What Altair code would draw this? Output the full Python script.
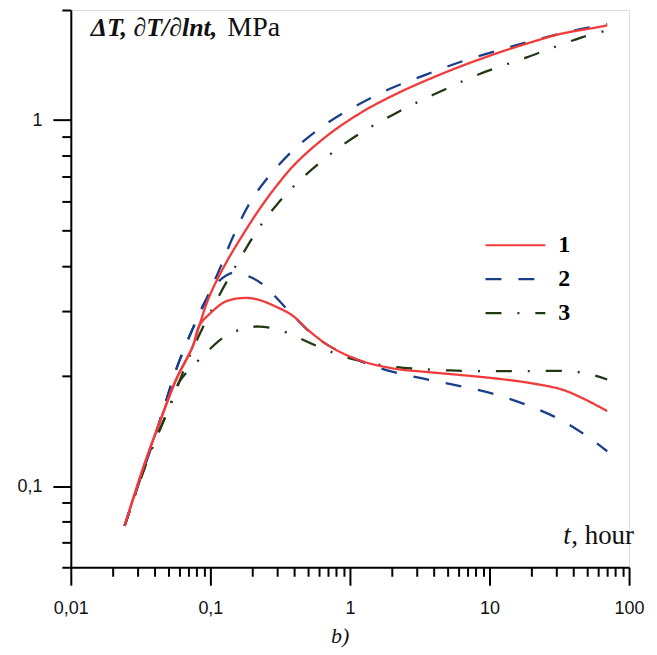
import altair as alt
import pandas as pd

# ---- data (t in hours, values in MPa) ----
# Series 1 (red, solid)
t1_T = [0.0243, 0.0328, 0.0432, 0.0569, 0.0748, 0.0834, 0.0984, 0.1294, 0.1799, 0.2239, 0.2939, 0.409, 0.708, 1.224, 2.12, 3.667, 6.34, 10.98, 19.0, 32.8, 56.9, 69.7]
v1_T = [0.0779, 0.1113, 0.149, 0.1956, 0.2411, 0.2747, 0.330, 0.407, 0.5016, 0.570, 0.657, 0.762, 0.915, 1.053, 1.177, 1.293, 1.407, 1.518, 1.624, 1.723, 1.789, 1.815]
t1_D = [0.0243, 0.0328, 0.0432, 0.0569, 0.0748, 0.0834, 0.0984, 0.1294, 0.1799, 0.2239, 0.2946, 0.3872, 0.5095, 0.7474, 1.224, 2.12, 3.667, 6.34, 10.98, 19.0, 32.8, 45.63, 69.7]
v1_D = [0.0779, 0.1113, 0.149, 0.1956, 0.2411, 0.2747, 0.2950, 0.3198, 0.3267, 0.3225, 0.3094, 0.2925, 0.2655, 0.2387, 0.2195, 0.2092, 0.2048, 0.2010, 0.1969, 0.1916, 0.1837, 0.1744, 0.1604]

# Series 2 (blue, dashed)
t2_T = [0.0243, 0.0320, 0.0387, 0.0469, 0.0569, 0.0708, 0.0932, 0.1160, 0.1443, 0.1900, 0.2500, 0.398, 0.6708, 1.127, 1.953, 3.473, 6.175, 11.27, 20.05, 35.66, 65.2, 69.7]
v2_T = [0.0778, 0.1067, 0.1315, 0.1655, 0.2084, 0.2567, 0.3232, 0.3903, 0.4770, 0.5904, 0.6864, 0.8320, 0.9752, 1.0987, 1.220, 1.330, 1.442, 1.547, 1.645, 1.740, 1.823, 1.830]
t2_D = [0.0243, 0.0320, 0.0387, 0.0469, 0.0569, 0.0708, 0.0932, 0.1160, 0.1443, 0.1837, 0.2390, 0.3666, 0.5782, 0.9837, 1.701, 3.111, 5.689, 10.38, 18.59, 32.52, 54.15, 69.7]
v2_D = [0.0778, 0.1067, 0.1315, 0.1655, 0.2084, 0.2567, 0.3232, 0.3641, 0.3829, 0.3757, 0.3551, 0.3003, 0.2542, 0.2265, 0.2092, 0.1978, 0.1888, 0.1792, 0.1665, 0.1516, 0.1340, 0.1245]

# Series 3 (dark green, dash-dot)
t3_T = [0.0243, 0.0356, 0.0524, 0.0708, 0.1098, 0.1749, 0.2239, 0.3024, 0.4203, 0.6006, 0.881, 1.329, 2.005, 3.060, 4.827, 7.475, 11.67, 18.47, 29.13, 45.93, 69.7]
v3_T = [0.0778, 0.1185, 0.1690, 0.2261, 0.3198, 0.4377, 0.5088, 0.5904, 0.6748, 0.7621, 0.8539, 0.9463, 1.032, 1.121, 1.215, 1.311, 1.397, 1.484, 1.584, 1.684, 1.759]
t3_D = [0.0243, 0.0356, 0.0524, 0.0601, 0.0807, 0.0952, 0.1259, 0.1749, 0.2239, 0.3199, 0.4444, 0.5689, 0.7879, 1.068, 1.443, 2.005, 3.111, 5.240, 9.837, 19.0, 36.26, 50.95, 69.7]
v3_D = [0.0778, 0.1185, 0.1690, 0.1932, 0.2191, 0.2333, 0.2558, 0.2695, 0.2729, 0.2661, 0.2526, 0.2422, 0.2304, 0.2218, 0.2163, 0.2119, 0.2090, 0.2070, 0.2061, 0.2062, 0.2061, 0.2028, 0.1956]

series_names = ["1", "2", "3"]
series_colors = ["#f23a3a", "#173f8c", "#1f3a12"]
series_dashes = [[1, 0], [16, 17], [16, 16, 2, 16]]

x_ticks = [0.01, 0.02, 0.03, 0.04, 0.05, 0.06, 0.07, 0.08, 0.09,
           0.1, 0.2, 0.3, 0.4, 0.5, 0.6, 0.7, 0.8, 0.9,
           1, 2, 3, 4, 5, 6, 7, 8, 9,
           10, 20, 30, 40, 50, 60, 70, 80, 90, 100]
y_ticks = [0.06, 0.07, 0.08, 0.09, 0.1, 0.2, 0.3, 0.4, 0.5, 0.6, 0.7, 0.8, 0.9, 1, 2]

rows = []
def add(series, curve, ts, vs):
    for i, (t, v) in enumerate(zip(ts, vs)):
        rows.append({"series": series, "curve": curve, "t": t, "v": v, "i": i})

# draw order: 3, 2, then 1 on top
add("3", "T", t3_T, v3_T)
add("3", "D", t3_D, v3_D)
add("2", "T", t2_T, v2_T)
add("2", "D", t2_D, v2_D)
add("1", "T", t1_T, v1_T)
add("1", "D", t1_D, v1_D)
df = pd.DataFrame(rows)

major = "abs(log(datum.value)/LN10 - round(log(datum.value)/LN10)) < 0.001"
label_expr = major + " ? replace(format(datum.value, '~g'), '.', ',') : ''"

axis_common = dict(
    title=None, grid=False, domainColor="black", domainWidth=2,
    tickColor="black", tickWidth=2,
    tickSize={"condition": {"test": major, "value": 18}, "value": 9},
    labelExpr=label_expr, labelFont="Liberation Sans", labelFontSize=18,
    labelColor="#111111", labelOverlap=False, labelFlush=False, labelBound=False,
)

# wide horizontal line symbol with a small nominal size, so rows stay compact
legend = alt.Legend(
    title=None, orient="none", legendX=434, legendY=224,
    symbolType="M-3,0H3", symbolSize=400, symbolStrokeWidth=2.2,
    labelFont="Liberation Serif", labelFontSize=24, labelFontWeight="bold",
    labelColor="black", rowPadding=10, labelOffset=31,
)

lines = alt.Chart(df).mark_line(interpolate="catmull-rom", strokeWidth=2.3, clip=True).encode(
    x=alt.X("t:Q", scale=alt.Scale(type="log", domain=[0.01, 100], nice=False),
            axis=alt.Axis(values=x_ticks, labelPadding=14, **axis_common)),
    y=alt.Y("v:Q", scale=alt.Scale(type="log", domain=[0.06, 2.0], nice=False),
            axis=alt.Axis(values=y_ticks, labelPadding=11, **axis_common)),
    color=alt.Color("series:N", scale=alt.Scale(domain=series_names, range=series_colors), legend=legend),
    strokeDash=alt.StrokeDash("series:N", scale=alt.Scale(domain=series_names, range=series_dashes), legend=legend),
    detail="curve:N",
    order="i:Q",
)

def txt(s, x, y, **kw):
    return alt.Chart(pd.DataFrame({"s": [s]})).mark_text(
        align="left", baseline="alphabetic", font="Liberation Serif", color="#111111", **kw
    ).encode(x=alt.value(x), y=alt.value(y), text="s:N")

title_a = txt("ΔT, ∂T/∂lnt,", 20, 26, fontSize=26, fontWeight="bold", fontStyle="italic")
title_b = txt("MPa", 157, 26, fontSize=28)
xlab_a = txt("t", 494, 536, fontSize=27, fontStyle="italic")
xlab_b = txt(", hour", 502, 536, fontSize=27)
panel = txt("b)", 261, 635, fontSize=22, fontStyle="italic")

chart = alt.layer(lines, title_a, title_b, xlab_a, xlab_b, panel).properties(
    width=560, height=559,
    autosize=alt.AutoSizeParams(type="none"),
    padding={"left": 63, "top": 1, "right": 20, "bottom": 86},
).configure_view(stroke=None).configure(background="white")

chart.save("out.html", embed_options={"renderer": "svg", "actions": False})
